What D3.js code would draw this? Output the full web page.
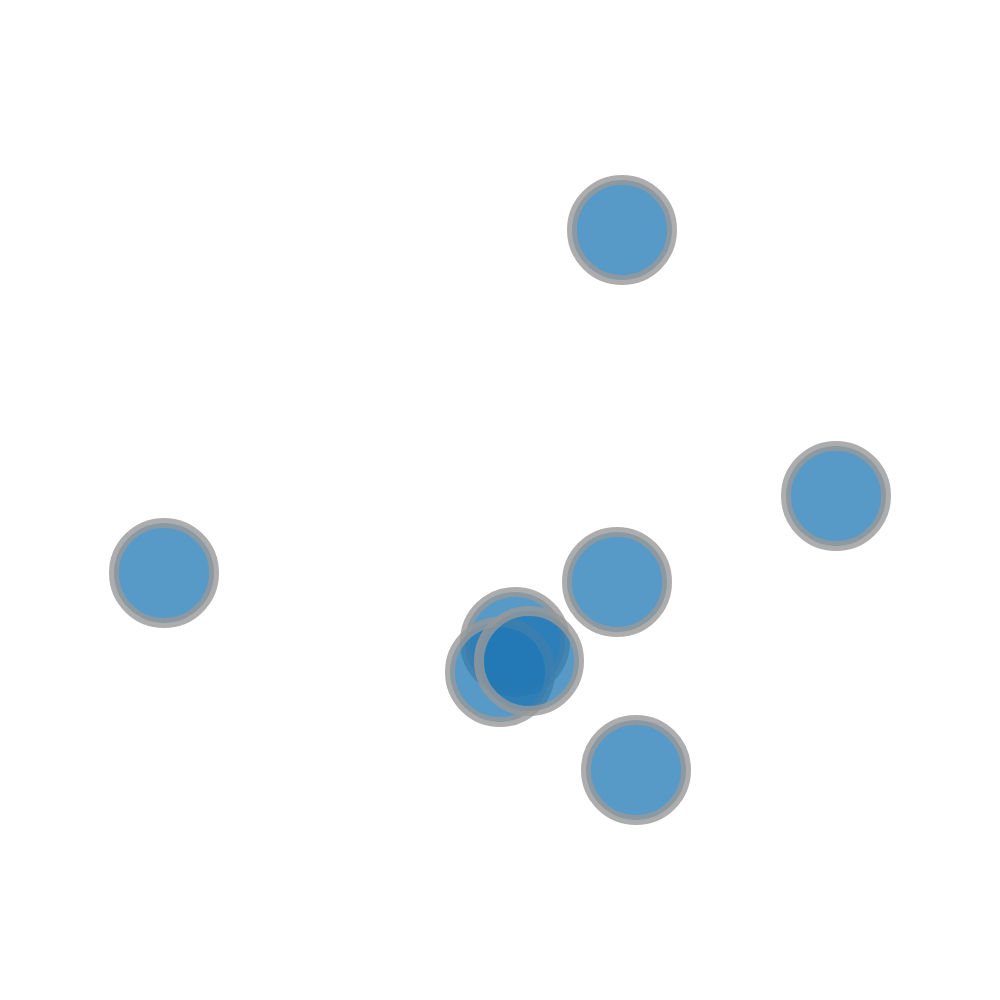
<!DOCTYPE html>
<html>
<head>
<meta charset="utf-8">
<script src="https://cdn.jsdelivr.net/npm/d3@7"></script>
<style>
html,body{margin:0;padding:0;background:#fff;}
svg{display:block;}
</style>
</head>
<body>
<script>
const xValues = [622, 836, 164, 617, 636, 515, 500, 529];
const yValues = [230, 496, 573, 582, 770, 642, 672, 661];
const radiusValues = [50, 50, 50, 50, 50, 50, 50, 50];

const width = 1000, height = 1000;
const svg = d3.select("body").append("svg").attr("width", width).attr("height", height);

const x = d3.scaleLinear().domain([0, 1000]).range([0, width]);
const y = d3.scaleLinear().domain([0, 1000]).range([0, height]);

const nodes = xValues.map((v, i) => ({x: v, y: yValues[i], r: radiusValues[i]}));

svg.selectAll("circle").data(nodes).join("circle")
  .attr("cx", d => x(d.x))
  .attr("cy", d => y(d.y))
  .attr("r", d => d.r)
  .attr("fill", "#1f77b4")
  .attr("fill-opacity", 0.75)
  .attr("stroke", "#999")
  .attr("stroke-opacity", 0.8)
  .attr("stroke-width", 10);
</script>
</body>
</html>
